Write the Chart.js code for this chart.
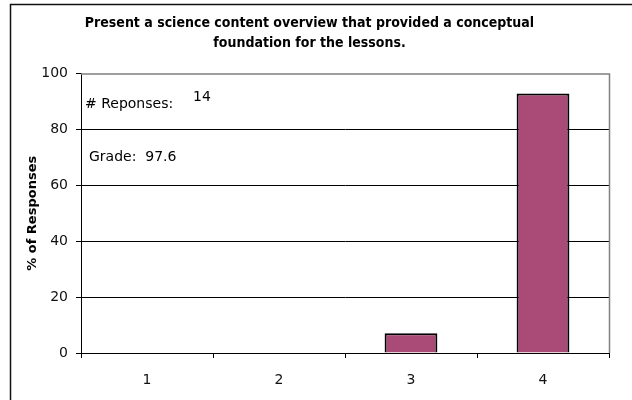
<!DOCTYPE html>
<html>
<head>
<meta charset="utf-8">
<script src="https://cdn.jsdelivr.net/npm/chart.js@4/dist/chart.umd.min.js"></script>
<style>
    html, body { margin: 0; padding: 0; background: #fff; }
    #wrap { width: 632px; height: 400px; position: relative; }
</style>
</head>
<body>
<div id="wrap"><canvas id="chart" width="632" height="400"></canvas></div>
<script>
const categories = ['1', '2', '3', '4'];
const pctResponses = [0, 0, 7.1, 92.9];
const titleLines = ['Present a science content overview that provided a conceptual', 'foundation for the lessons.'];
const responseCount = 14;
const grade = 97.6;

const FONT = "'DejaVu Sans', sans-serif";

// outer frame + gray plot border + the two text notes
const decor = {
    id: 'decor',
    beforeDatasetsDraw(chart) {
        const { ctx, chartArea: a } = chart;
        ctx.save();
        ctx.strokeStyle = '#808080';
        ctx.lineWidth = 1.5;
        ctx.beginPath();
        ctx.moveTo(a.left, a.top + 0.5);
        ctx.lineTo(a.right + 0.5, a.top + 0.5);
        ctx.lineTo(a.right + 0.5, a.bottom);
        ctx.stroke();
        ctx.restore();
    },
    afterDraw(chart) {
        const { ctx, chartArea: a, scales } = chart;
        ctx.save();
        ctx.strokeStyle = '#111';
        ctx.lineWidth = 1.5;
        ctx.beginPath();
        ctx.moveTo(10.5, 400);
        ctx.lineTo(10.5, 4.5);
        ctx.lineTo(632, 4.5);
        ctx.stroke();

        ctx.fillStyle = '#000';
        ctx.font = '14px ' + FONT;
        ctx.textBaseline = 'middle';
        ctx.textAlign = 'left';
        ctx.fillText('# Reponses:', a.left + 4, scales.y.getPixelForValue(89));
        ctx.fillText(String(responseCount), a.left + 112, scales.y.getPixelForValue(91.5));
        ctx.fillText('Grade:  ' + grade, a.left + 8, scales.y.getPixelForValue(70));
        ctx.restore();
    }
};

new Chart(document.getElementById('chart'), {
    type: 'bar',
    data: {
        labels: categories,
        datasets: [{
            data: pctResponses,
            backgroundColor: '#A94A77',
            borderColor: '#000',
            borderWidth: 2,
            borderSkipped: 'bottom',
            categoryPercentage: 1,
            barPercentage: 0.4
        }]
    },
    options: {
        responsive: false,
        animation: false,
        layout: { padding: { left: 10, right: 23, top: 0, bottom: 0 } },
        plugins: {
            legend: { display: false },
            tooltip: { enabled: false },
            title: {
                display: true,
                text: titleLines,
                color: '#000',
                font: { family: "'DejaVu Sans Condensed', 'DejaVu Sans', sans-serif", size: 14, weight: 'bold', lineHeight: 1.45 },
                padding: { top: 13, bottom: 20 }
            }
        },
        scales: {
            y: {
                min: 0,
                max: 100,
                afterFit: s => { s.width = 71; },
                ticks: { stepSize: 20, color: '#111', padding: 8, font: { family: FONT, size: 14 } },
                grid: {
                    color: c => c.tick && c.tick.value === 100 ? 'rgba(0,0,0,0)' : '#000',
                    tickColor: '#000',
                    tickLength: 5,
                    lineWidth: 1
                },
                border: { color: '#000', width: 1 },
                title: {
                    display: true,
                    text: '% of Responses',
                    color: '#000',
                    font: { family: FONT, size: 13, weight: 'bold' },
                    padding: { top: 15, bottom: 0 }
                }
            },
            x: {
                afterFit: s => { s.height = 47; },
                ticks: { color: '#111', padding: 14, font: { family: FONT, size: 14 } },
                grid: {
                    offset: true,
                    drawOnChartArea: false,
                    tickColor: '#000',
                    tickLength: 5
                },
                border: { color: '#000', width: 1 }
            }
        }
    },
    plugins: [decor]
});
</script>
</body>
</html>
